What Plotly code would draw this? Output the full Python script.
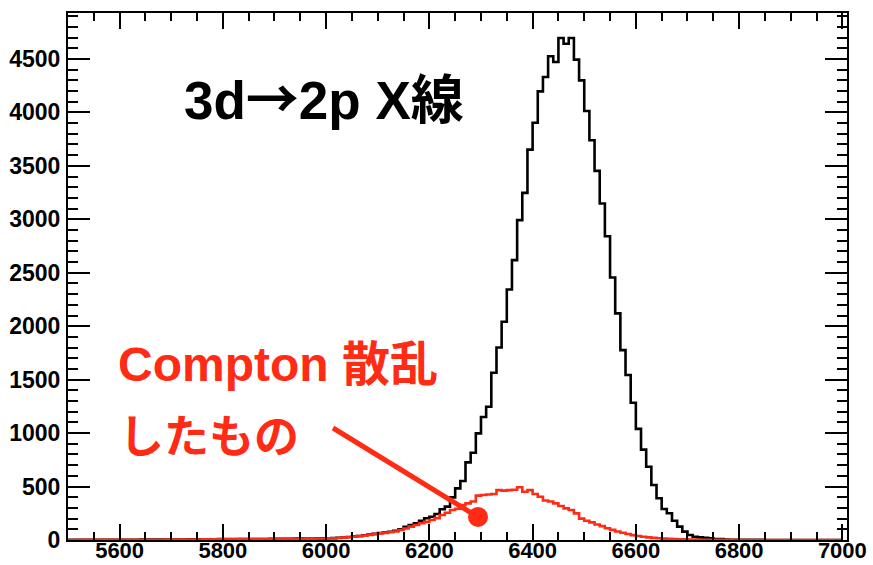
import plotly.graph_objects as go

# ---- data (bin left edges, 10 keV bins) ----
bin_start = 5500
bin_width = 10
n_bins = 150
bin_edges = [bin_start + i * bin_width for i in range(n_bins)]

total_counts = [
    1, 1, 1, 2, 2, 2, 2, 2, 3, 3,
    3, 3, 3, 3, 4, 4, 4, 4, 4, 5,
    5, 5, 5, 6, 6, 6, 7, 7, 7, 8,
    8, 8, 8, 9, 9, 9, 10, 10, 10, 11,
    11, 11, 12, 12, 13, 13, 14, 14, 15, 15,
    17, 18, 21, 24, 28, 33, 38, 44, 50, 57,
    65, 70, 77, 86, 100, 124, 140, 156, 180, 203,
    218, 243, 287, 312, 399, 483, 552, 726, 816, 997,
    1150, 1246, 1564, 1801, 2041, 2344, 2618, 2992, 3247, 3652,
    3904, 4197, 4331, 4525, 4472, 4696, 4643, 4696, 4494, 4300,
    4013, 3740, 3453, 3148, 2842, 2456, 2120, 1776, 1543, 1284,
    1040, 845, 685, 514, 390, 290, 250, 180, 125, 78,
    47, 31, 25, 20, 15, 10, 8, 5, 3, 2,
    2, 1, 1, 1, 1, 0, 0, 0, 0, 0,
    0, 0, 0, 0, 0, 0, 0, 0, 0, 0,
]

compton_counts = [
    0, 0, 1, 1, 1, 1, 1, 1, 2, 2,
    2, 2, 2, 2, 3, 3, 3, 3, 3, 4,
    4, 4, 4, 5, 5, 5, 6, 6, 6, 7,
    7, 7, 7, 8, 8, 8, 9, 9, 9, 10,
    10, 10, 11, 11, 12, 12, 13, 13, 14, 14,
    15, 16, 19, 22, 26, 31, 36, 42, 48, 55,
    62, 66, 72, 80, 93, 108, 125, 140, 156, 170,
    187, 205, 234, 255, 280, 292, 327, 343, 360, 415,
    421, 425, 430, 467, 462, 467, 470, 493, 452, 467,
    430, 405, 370, 360, 343, 318, 296, 280, 249, 200,
    180, 165, 145, 130, 110, 95, 80, 68, 56, 46,
    38, 31, 25, 20, 16, 13, 11, 9, 7, 6,
    5, 4, 3, 3, 2, 2, 1, 1, 1, 1,
    0, 0, 0, 0, 0, 0, 0, 0, 0, 0,
    0, 0, 0, 0, 0, 0, 0, 0, 0, 0,
]

x_tickvals = [5600, 5800, 6000, 6200, 6400, 6600, 6800, 7000]
y_tickvals = [0, 500, 1000, 1500, 2000, 2500, 3000, 3500, 4000, 4500]

title_left = "3d"
title_arrow = "→"
title_right = "2p X線"
compton_line1 = "Compton 散乱"
compton_line2 = "したもの"

RED = "#ff2b14"
W, H = 873, 565
ML, MR, MT, MB = 68, 26, 13, 25
PW, PH = W - ML - MR, H - MT - MB


def px(xp):
    return (xp - ML) / PW


def py(yp):
    return (H - MB - yp) / PH


def step_xy(counts):
    xs = bin_edges + [bin_edges[-1] + bin_width]
    ys = counts + [counts[-1]]
    return xs, ys


fig = go.Figure()
xs, ys = step_xy(total_counts)
fig.add_trace(go.Scatter(x=xs, y=ys, mode="lines", line=dict(shape="hv", color="black", width=2.6),
                         hoverinfo="skip", showlegend=False))
xs, ys = step_xy(compton_counts)
fig.add_trace(go.Scatter(x=xs, y=ys, mode="lines", line=dict(shape="hv", color=RED, width=2.6),
                         hoverinfo="skip", showlegend=False))

tickfont = dict(family="Liberation Sans, Arial, sans-serif", size=23, color="black", weight="bold")
xtickfont = dict(family="Liberation Sans, Arial, sans-serif", size=22, color="black", weight="bold")

fig.update_layout(
    width=W, height=H,
    margin=dict(l=ML, r=MR, t=MT, b=MB, autoexpand=False),
    paper_bgcolor="white", plot_bgcolor="white",
    showlegend=False,
    xaxis=dict(range=[5500, 7009], tickvals=x_tickvals, ticktext=[str(v) for v in x_tickvals],
               ticks="inside", ticklen=16, tickwidth=1.5, tickcolor="black",
               minor=dict(ticks="inside", ticklen=8, tickwidth=1.5, tickcolor="black", dtick=50, tick0=5500,
                          showgrid=False),
               showline=True, linecolor="black", linewidth=2, mirror="ticks",
               showgrid=False, zeroline=False, tickfont=xtickfont, automargin=False,
               ticklabelstandoff=-10),
    yaxis=dict(range=[0, 4930], tickvals=y_tickvals, ticktext=[str(v) for v in y_tickvals],
               ticks="inside", ticklen=22, tickwidth=1.5, tickcolor="black",
               minor=dict(ticks="inside", ticklen=10, tickwidth=1.5, tickcolor="black", dtick=100, tick0=0,
                          showgrid=False),
               showline=True, linecolor="black", linewidth=2, mirror="ticks",
               showgrid=False, zeroline=False, tickfont=tickfont, automargin=False,
               ticklabelstandoff=1),
)

ann_font_family = "Liberation Sans, Noto Sans CJK JP, sans-serif"
title_html = (title_left + "<span style='font-family:Noto Sans CJK JP'>" + title_arrow + "</span>"
              + title_right)
fig.add_annotation(x=px(182), y=py(96), xref="paper", yref="paper", xanchor="left", yanchor="middle",
                   text=title_html, showarrow=False,
                   font=dict(family=ann_font_family, size=53, color="black", weight="bold"))
fig.add_annotation(x=px(116), y=py(364), xref="paper", yref="paper", xanchor="left", yanchor="middle",
                   text=compton_line1, showarrow=False,
                   font=dict(family=ann_font_family, size=48, color=RED, weight="bold"))
fig.add_annotation(x=px(117), y=py(437), xref="paper", yref="paper", xanchor="left", yanchor="middle",
                   text=compton_line2, showarrow=False,
                   font=dict(family=ann_font_family, size=45, color=RED, weight="bold"))

fig.add_shape(type="line", xref="paper", yref="paper", x0=px(333), y0=py(428), x1=px(478), y1=py(517),
              line=dict(color=RED, width=5))
fig.add_shape(type="circle", xref="paper", yref="paper", x0=px(468), y0=py(527), x1=px(488), y1=py(507),
              line=dict(color=RED, width=0), fillcolor=RED)

fig.write_html("out.html")
